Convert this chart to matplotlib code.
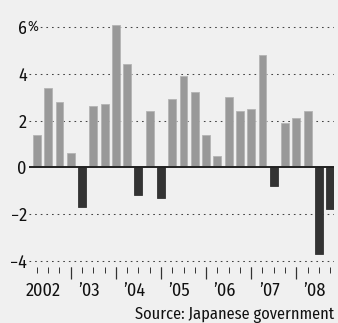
import matplotlib
matplotlib.use('Agg')
import matplotlib.pyplot as plt
import numpy as np

# quarterly growth, 2002 Q1 - 2008 Q3, % annualised
growth = [1.4, 3.4, 2.8, 0.6,
          -1.7, 2.6, 2.7, 6.1,
          4.4, -1.2, 2.4, -1.3,
          2.9, 3.9, 3.2, 1.4,
          0.5, 3.0, 2.4, 2.5,
          4.8, -0.8, 1.9, 2.1,
          2.4, -3.7, -1.8]
year_labels = ['2002', '\u201903', '\u201904', '\u201905', '\u201906', '\u201907', '\u201908']
y_ticks = [-4, -2, 0, 2, 4, 6]
y_labels = ['\u22124', '\u22122', '0', '2', '4', '6']

bg = '#f0f0f0'
plt.rcParams['font.family'] = ['Fira Sans Condensed', 'Roboto Condensed', 'DejaVu Sans']

fig = plt.figure(figsize=(3.38, 3.23), dpi=100, facecolor=bg)
ax = fig.add_axes([0.0858, 0.1734, 0.9024, 0.8012], facecolor=bg)

x = np.arange(len(growth))
vals = np.array(growth)
colors = np.where(vals >= 0, '#999999', '#333333')
edges = np.where(vals >= 0, '#b4b4b4', '#333333')
ax.bar(x, vals, width=0.7, color=colors, edgecolor=edges, linewidth=0.6, zorder=3)

ax.set_xlim(-0.7, 26.34)
ax.set_ylim(-4.26, 6.8)

# dotted gridlines + solid zero line
for t in y_ticks:
    if t == 0:
        ax.axhline(0, color='#222222', lw=1.4, zorder=4)
    else:
        ax.axhline(t, color='#444444', lw=0.75, ls=(0, (1.6, 3.8)), zorder=1)

for s in ax.spines.values():
    s.set_visible(False)

ax.set_yticks(y_ticks)
ax.set_yticklabels(y_labels)
ax.tick_params(axis='y', length=0, pad=1.6, labelsize=13, labelcolor='#111111')

# "%" after the top label, with background patch hiding the dots
ax.annotate('%', xy=(0, 6), xycoords=('axes fraction', 'data'),
            xytext=(-1.2, 0), textcoords='offset points',
            ha='left', va='center', fontsize=10.5, color='#111111',
            bbox=dict(facecolor=bg, edgecolor='none', pad=0.6), zorder=5)

# short ticks at every quarter, long ticks at year end
ax.set_xticks(x)
ax.set_xticklabels([])
ax.set_xticks(x[3::4][:6], minor=True)
ax.xaxis.remove_overlapping_locs = False
ax.tick_params(axis='x', which='major', direction='out', length=4.4, width=0.7, color='#333333')
ax.tick_params(axis='x', which='minor', direction='out', length=8.8, width=0.9, color='#333333')

trans = ax.get_xaxis_transform()
for i, lab in enumerate(year_labels):
    ax.text(4 * i + 0.6, -0.112, lab, transform=trans, ha='center', va='baseline',
            fontsize=13, color='#111111')

fig.text(0.988, 0.013, 'Source: Japanese government', ha='right', va='baseline',
         fontsize=11.8, color='#111111')

fig.savefig('out.png', dpi=100, facecolor=bg)
